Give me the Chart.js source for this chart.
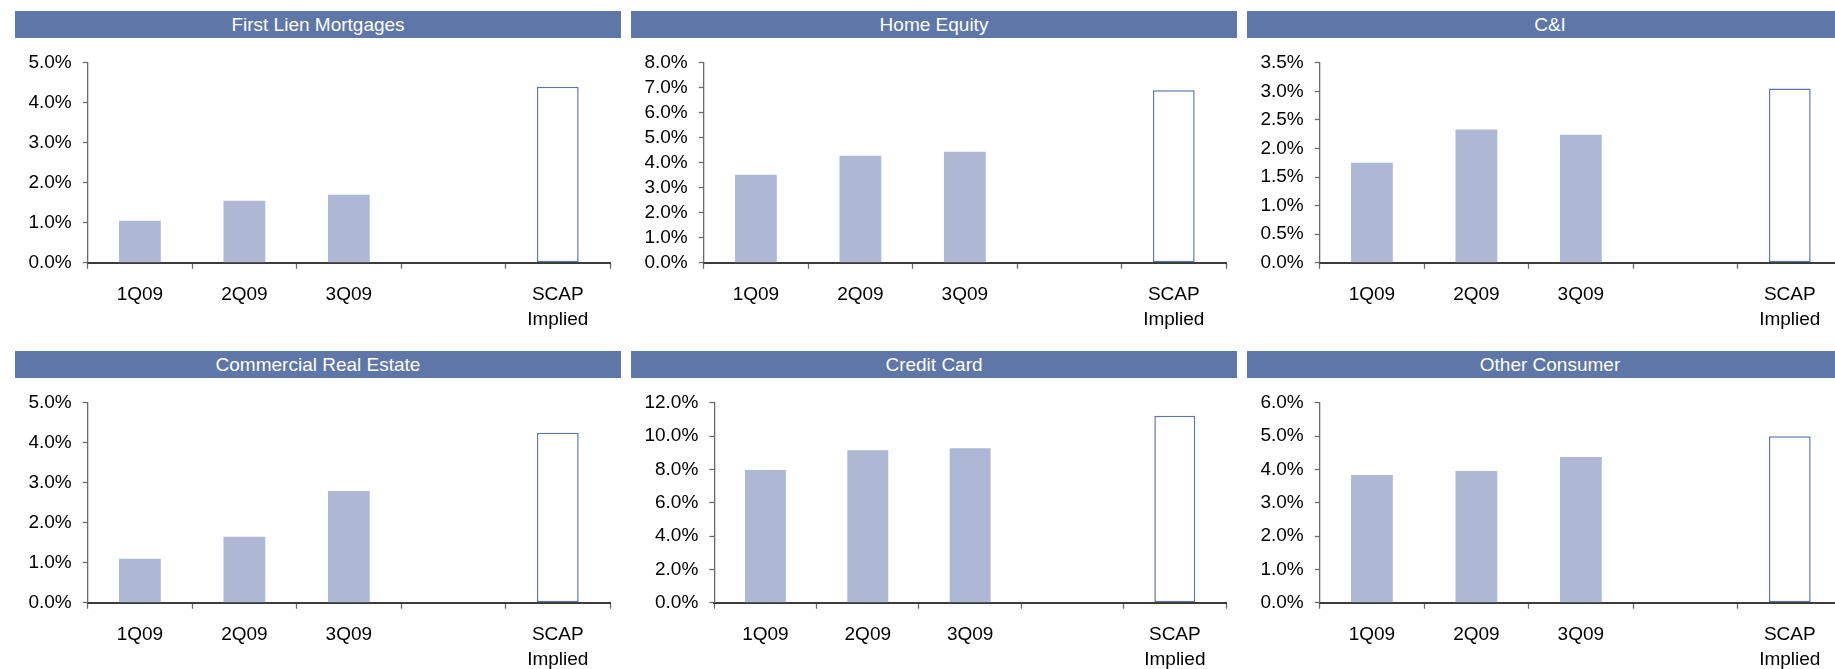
<!DOCTYPE html>
<html>
<head>
<meta charset="utf-8">
<script src="https://cdn.jsdelivr.net/npm/chart.js@4.4.1/dist/chart.umd.min.js"></script>
<style>
  html, body { margin: 0; padding: 0; background: #fff; }
  body { width: 1835px; height: 669px; overflow: hidden; position: relative; font-family: "Liberation Sans", Arial, sans-serif; }
  .panel { position: absolute; width: 606px; }
  .panel h2 { margin: 0; height: 27px; line-height: 27px; background: #5e76a8; color: #fff; font-size: 19px; font-weight: normal; text-align: center; }
  .panel canvas { display: block; }
</style>
</head>
<body>
<div id="grid"></div>
<script>
// quarters plus a spacer slot before the SCAP bar
const categories = ['1Q09', '2Q09', '3Q09', '', ['SCAP', 'Implied']]

const titles = ['First Lien Mortgages', 'Home Equity', 'C&I', 'Commercial Real Estate', 'Credit Card', 'Other Consumer']

// loss rates, % annualised
const firstLien = [1.05, 1.55, 1.70, null, 4.40]
const homeEquity = [3.52, 4.28, 4.44, null, 6.90]
const commercialIndustrial = [1.75, 2.33, 2.24, null, 3.05]
const commercialRealEstate = [1.10, 1.65, 2.79, null, 4.25]
const creditCard = [7.96, 9.15, 9.27, null, 11.22]
const otherConsumer = [3.83, 3.95, 4.37, null, 4.99]

// y axis ranges
const axisMax = [5, 8, 3.5, 5, 12, 6]
const axisStep = [1, 1, 0.5, 1, 2, 1]

const seriesList = [firstLien, homeEquity, commercialIndustrial, commercialRealEstate, creditCard, otherConsumer]

const colors = {
  header: '#5e76a8',
  bar: '#adb8d5',
  outline: '#5d74ad',
  axis: '#3c3c3c',
  tick: '#6b6b6b',
  text: '#000'
}

Chart.defaults.font.family = '"Liberation Sans", Arial, sans-serif'
Chart.defaults.font.size = 19

const grid = document.getElementById('grid')

seriesList.forEach((values, i) => {
  const col = i % 3
  const row = Math.floor(i / 3)

  const panel = document.createElement('div')
  panel.className = 'panel'
  panel.style.left = (15 + col * 616) + 'px'
  panel.style.top = (row === 0 ? 11 : 351) + 'px'

  const header = document.createElement('h2')
  header.textContent = titles[i]
  panel.appendChild(header)

  const canvas = document.createElement('canvas')
  canvas.width = 606
  canvas.height = 310
  panel.appendChild(canvas)
  grid.appendChild(panel)

  const last = values.length - 1

  new Chart(canvas.getContext('2d'), {
    type: 'bar',
    data: {
      labels: categories,
      datasets: [{
        data: values,
        backgroundColor: values.map((_, k) => k === last ? '#ffffff' : colors.bar),
        borderColor: values.map((_, k) => k === last ? colors.outline : colors.bar),
        borderWidth: values.map((_, k) => k === last ? 1.5 : 0),
        borderSkipped: false,
        categoryPercentage: 1,
        barPercentage: 0.4
      }]
    },
    options: {
      responsive: false,
      animation: false,
      devicePixelRatio: 1,
      layout: { padding: { top: 24.7, right: 11, left: 2.4, bottom: 3.1 } },
      plugins: {
        legend: { display: false },
        tooltip: { enabled: false }
      },
      scales: {
        x: {
          grid: {
            drawOnChartArea: false,
            drawTicks: true,
            tickLength: 6,
            tickColor: colors.tick,
            tickWidth: 1.3,
            offset: true
          },
          border: { color: colors.axis, width: 2 },
          ticks: {
            color: colors.text,
            padding: 13,
            maxRotation: 0,
            autoSkip: false,
            font: { size: 19, lineHeight: 1.32 }
          }
        },
        y: {
          min: 0,
          max: axisMax[i],
          grid: {
            drawOnChartArea: false,
            drawTicks: true,
            tickLength: 5,
            tickColor: colors.tick,
            tickWidth: 1.3
          },
          border: { color: colors.tick, width: 1.3 },
          ticks: {
            stepSize: axisStep[i],
            autoSkip: false,
            color: colors.text,
            padding: 11,
            font: { size: 19, lineHeight: 1.2 },
            callback: (value) => value.toFixed(1) + '%'
          }
        }
      }
    }
  })
})
</script>
</body>
</html>
